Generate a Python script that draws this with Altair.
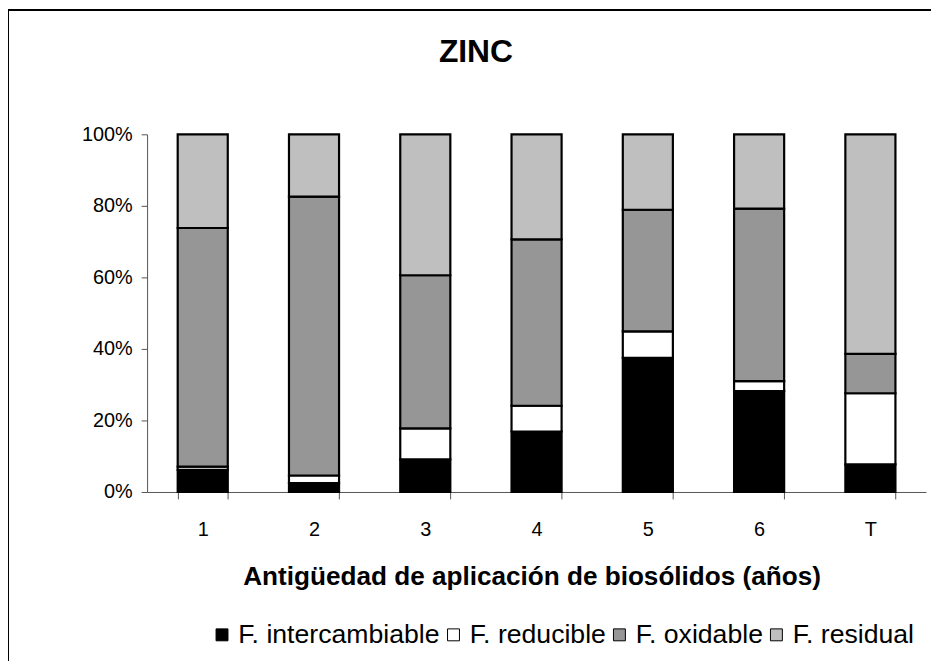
import altair as alt
import pandas as pd

categories = ["1", "2", "3", "4", "5", "6", "T"]
fractions = ["F. intercambiable", "F. reducible", "F. oxidable", "F. residual"]
intercambiable = [6.2, 2.5, 9.1, 16.9, 37.5, 28.2, 7.7]
reducible = [0.9, 2.1, 8.7, 7.2, 7.4, 2.8, 19.9]
oxidable = [66.7, 78.0, 42.8, 46.5, 34.0, 48.2, 11.0]
residual = [26.2, 17.4, 39.4, 29.4, 21.1, 20.8, 61.4]
colors = ["#000000", "#ffffff", "#969696", "#bfbfbf"]
chart_title = ["ZINC"]

rows = []
for series_idx, (name, vals) in enumerate(zip(fractions, [intercambiable, reducible, oxidable, residual])):
    for c, v in zip(categories, vals):
        rows.append({"cat": c, "fraccion": name, "orden": series_idx, "valor": v})
df = pd.DataFrame(rows)

FONT = "Liberation Sans"

bars = alt.Chart(df).mark_bar(stroke="black", strokeWidth=2.2).encode(
    x=alt.X("cat:N", sort=categories,
            scale=alt.Scale(paddingInner=0.55, paddingOuter=0.275),
            axis=alt.Axis(title="Antigüedad de aplicación de biosólidos (años)",
                          labelAngle=0, tickBand="extent", tickSize=7,
                          labelPadding=21, labelFontSize=20, labelFont=FONT,
                          titleFontSize=26.3, titleFont=FONT, titleFontWeight="bold",
                          titleX=387, titleY=85, titleBaseline="middle",
                          domainColor="#555555", tickColor="#555555",
                          labelColor="black", titleColor="black")),
    y=alt.Y("valor:Q", stack="normalize",
            scale=alt.Scale(domain=[0, 1]),
            axis=alt.Axis(title=None, format=".0%", values=[0, 0.2, 0.4, 0.6, 0.8, 1.0],
                          tickSize=6, labelPadding=9, labelFontSize=20, labelFont=FONT,
                          grid=False, domainColor="#555555", tickColor="#555555",
                          labelColor="black")),
    color=alt.Color("fraccion:N",
                    scale=alt.Scale(domain=fractions, range=colors),
                    legend=alt.Legend(title=None, orient="none", direction="horizontal",
                                      legendX=62, legendY=490,
                                      symbolType="square", symbolSize=144,
                                      symbolStrokeColor="black", symbolStrokeWidth=1,
                                      symbolOpacity=1, labelLimit=0,
                                      labelFontSize=26.8, labelFont=FONT, labelColor="black",
                                      labelOffset=3, columnPadding=0)),
    order=alt.Order("orden:Q", sort="ascending"),
)

title_text = alt.Chart(pd.DataFrame({"t": chart_title})).mark_text(
    font=FONT, fontSize=32, fontWeight="bold", color="black",
    align="center", baseline="middle", clip=False
).encode(text="t:N", x=alt.value(331), y=alt.value(-83))

frame = alt.Chart(pd.DataFrame({"k": [0]})).mark_rect(
    filled=False, stroke="black", strokeWidth=2, clip=False
).encode(
    x=alt.value(-140), x2=alt.value(900), y=alt.value(-125), y2=alt.value(600)
)

chart = alt.layer(bars, title_text, frame).properties(
    width=784, height=360,
    autosize=alt.AutoSizeParams(type="none"),
    padding={"left": 140, "top": 125, "right": 5, "bottom": 168},
    background="white",
).configure_view(stroke=None)

chart.save("out.html", embed_options={"renderer": "svg", "actions": False})
